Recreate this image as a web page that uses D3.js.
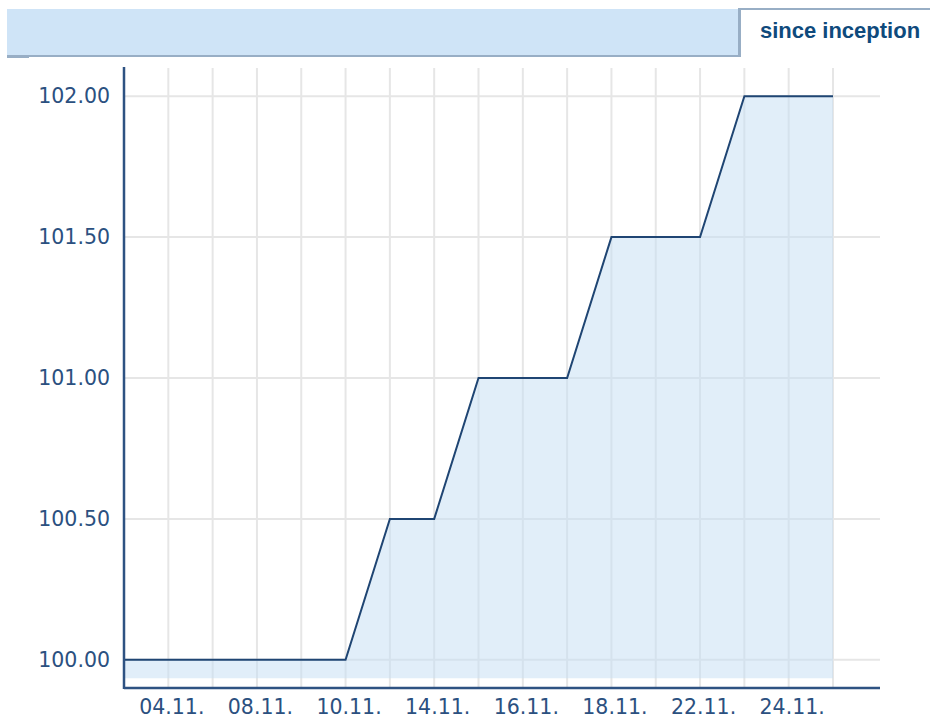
<!DOCTYPE html>
<html>
<head>
<meta charset="utf-8">
<script src="https://cdn.jsdelivr.net/npm/d3@7"></script>
<style>
  body { margin: 0; background: #fff; }
  svg { display: block; }
  .axis text { font-family: "DejaVu Sans", Verdana, sans-serif; font-size: 20.5px; fill: #2b5080; }
  .axis path, .axis line { display: none; }
</style>
</head>
<body>
<svg width="930" height="718"></svg>
<script>
// business days, November
const dates = ['03.11.', '04.11.', '07.11.', '08.11.', '09.11.', '10.11.', '11.11.', '14.11.', '15.11.',
  '16.11.', '17.11.', '18.11.', '21.11.', '22.11.', '23.11.', '24.11.', '25.11.'];
const values = [100, 100, 100, 100, 100, 100, 100.5, 100.5, 101, 101, 101, 101.5, 101.5, 101.5, 102, 102, 102];
const xTickLabels = ['04.11.', '08.11.', '10.11.', '14.11.', '16.11.', '18.11.', '22.11.', '24.11.'];
const yTickValues = [100, 100.5, 101, 101.5, 102];
const tabLabel = 'since inception';

const data = dates.map((d, i) => ({date: d, value: values[i]}));

const svg = d3.select('svg');
const plot = {left: 124, right: 880, top: 68, bottom: 688};

// header bar + tab
svg.append('rect').attr('x', 7).attr('y', 9).attr('width', 731).attr('height', 46).attr('fill', '#cfe4f7');
svg.append('rect').attr('x', 7).attr('y', 55).attr('width', 733).attr('height', 2).attr('fill', '#98aec5');
svg.append('rect').attr('x', 7).attr('y', 57).attr('width', 22).attr('height', 1).attr('fill', '#98aec5');
svg.append('rect').attr('x', 738).attr('y', 8).attr('width', 192).attr('height', 2).attr('fill', '#98aec5');
svg.append('rect').attr('x', 738).attr('y', 8).attr('width', 3).attr('height', 49).attr('fill', '#98aec5');
svg.append('text')
  .attr('x', 840).attr('y', 38)
  .attr('text-anchor', 'middle')
  .attr('font-family', '"Liberation Sans", Arial, sans-serif')
  .attr('font-weight', 'bold')
  .attr('font-size', '22px')
  .attr('fill', '#0f4a7c')
  .text(tabLabel);

const x = d3.scalePoint()
  .domain(dates)
  .range([plot.left, 833]);

const y = d3.scaleLinear()
  .domain([99.9, 102.1])
  .range([plot.bottom, plot.top]);

const g = svg.append('g');

// grid (under the area, the fill is half transparent)
g.append('g')
  .selectAll('line')
  .data(dates.slice(1))
  .enter().append('line')
    .attr('x1', d => x(d)).attr('x2', d => x(d))
    .attr('y1', plot.top).attr('y2', plot.bottom)
    .attr('stroke', '#e6e6e6')
    .attr('stroke-width', 2);

g.append('g')
  .selectAll('line')
  .data(yTickValues)
  .enter().append('line')
    .attr('x1', plot.left).attr('x2', plot.right)
    .attr('y1', d => y(d)).attr('y2', d => y(d))
    .attr('stroke', '#e6e6e6')
    .attr('stroke-width', 2);

const area = d3.area()
  .x(d => x(d.date))
  .y0(y(99.935))
  .y1(d => y(d.value));

g.append('path')
  .datum(data)
  .attr('d', area)
  .attr('fill', '#c3ddf3')
  .attr('fill-opacity', 0.5);

const line = d3.line()
  .x(d => x(d.date))
  .y(d => y(d.value));

g.append('path')
  .datum(data)
  .attr('d', line)
  .attr('fill', 'none')
  .attr('stroke', '#1f4573')
  .attr('stroke-width', 2);

// axes
g.append('g')
  .attr('class', 'axis')
  .attr('transform', `translate(${plot.left},0)`)
  .call(d3.axisLeft(y)
    .tickValues(yTickValues)
    .tickFormat(d3.format('.2f'))
    .tickSize(0)
    .tickPadding(14));

g.append('g')
  .attr('class', 'axis')
  .attr('transform', `translate(0,${plot.bottom})`)
  .call(d3.axisBottom(x)
    .tickValues(xTickLabels)
    .tickSize(0)
    .tickPadding(11))
  .selectAll('text')
    .attr('dx', '3px');

g.append('line')
  .attr('x1', plot.left).attr('x2', plot.left)
  .attr('y1', plot.top - 1).attr('y2', plot.bottom + 1)
  .attr('stroke', '#2e5282').attr('stroke-width', 2.5);

g.append('line')
  .attr('x1', plot.left).attr('x2', plot.right)
  .attr('y1', plot.bottom).attr('y2', plot.bottom)
  .attr('stroke', '#2e5282').attr('stroke-width', 2.5);
</script>
</body>
</html>
